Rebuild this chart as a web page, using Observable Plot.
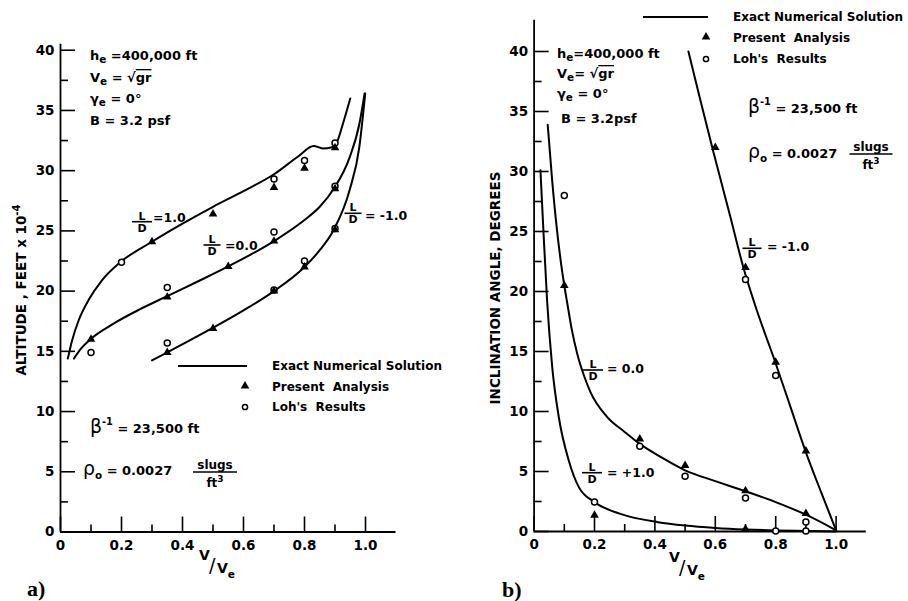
<!DOCTYPE html>
<html>
<head>
<meta charset="utf-8">
<script src="https://cdn.jsdelivr.net/npm/d3@7"></script>
<script src="https://cdn.jsdelivr.net/npm/@observablehq/plot@0.6"></script>
<style>
  body { margin: 0; background: #fff; }
  #wrap { position: relative; width: 908px; height: 601px; overflow: hidden; background: #fff; }
  #wrap svg { position: absolute; top: 0; }
  #wrap svg text { white-space: pre; }
</style>
</head>
<body>
<div id="wrap"></div>
<script>
// ---------------- DATA ----------------
// Tick values (both panels)
const xMajorTicks = [0, 0.2, 0.4, 0.6, 0.8, 1.0];
const xMinorTicks = [0.1, 0.3, 0.5, 0.7, 0.9];
const yMajorTicks = [0, 5, 10, 15, 20, 25, 30, 35, 40];
const yMinorTicks = [2.5, 7.5, 12.5, 17.5, 22.5, 27.5, 32.5, 37.5];

// Panel a) altitude (feet x 10^-4) vs V/Ve : exact numerical solution
const altExactLDplus1 = [[0.024,14.4],[0.038,15.9],[0.06,17.6],[0.093,19.3],[0.136,20.9],[0.196,22.4],[0.3,24.1],[0.4,25.6],[0.5,27.0],[0.6,28.3],[0.7,29.7],[0.78,31.2],[0.83,32.05],[0.86,31.85],[0.89,31.95],[0.91,32.6],[0.926,33.9],[0.95,36.0]];
const altExactLDzero  = [[0.044,14.4],[0.07,15.3],[0.098,16.0],[0.174,17.3],[0.261,18.5],[0.343,19.5],[0.45,20.8],[0.55,22.05],[0.7,24.15],[0.8,25.9],[0.85,27.0],[0.896,28.5],[0.948,31.1],[0.98,33.9],[0.997,36.4]];
const altExactLDminus1 = [[0.3,14.25],[0.349,14.9],[0.496,16.9],[0.6,18.4],[0.7,20.0],[0.8,22.0],[0.85,23.4],[0.896,25.1],[0.948,28.4],[0.98,32.0],[0.999,36.4]];
// Panel a) present analysis (triangles) and Loh's results (circles)
const altPresent = [[0.1,16.0],[0.3,24.1],[0.5,26.4],[0.7,28.6],[0.8,30.2],[0.9,31.9],[0.35,19.5],[0.55,22.05],[0.7,24.15],[0.9,28.5],[0.35,14.9],[0.5,16.9],[0.7,20.0],[0.8,22.0],[0.9,25.1]];
const altLoh = [[0.1,14.9],[0.2,22.4],[0.7,29.3],[0.8,30.85],[0.9,32.3],[0.35,20.3],[0.7,24.9],[0.9,28.7],[0.35,15.7],[0.7,20.1],[0.8,22.5],[0.9,25.2]];

// Panel b) inclination angle (degrees) vs V/Ve : exact numerical solution
const incExactLDplus1 = [[0.021,30.1],[0.03,25.5],[0.043,19.25],[0.06,13.7],[0.082,9.5],[0.115,5.9],[0.148,3.7],[0.2,2.45],[0.286,1.47],[0.41,0.78],[0.5,0.5],[0.6,0.3],[0.7,0.17],[0.8,0.09],[0.9,0.04],[1.0,0.0]];
const incExactLDzero  = [[0.045,33.9],[0.06,29.2],[0.075,25.3],[0.09,22.2],[0.1,20.5],[0.11,19.0],[0.125,16.8],[0.143,14.8],[0.165,13.0],[0.187,11.6],[0.24,9.6],[0.3,8.3],[0.35,7.3],[0.42,6.2],[0.5,5.1],[0.6,4.2],[0.7,3.35],[0.8,2.45],[0.9,1.4],[1.0,0.1]];
const incExactLDminus1 = [[0.511,40.0],[0.55,36.0],[0.591,31.9],[0.65,26.2],[0.693,22.0],[0.73,19.0],[0.8,14.0],[0.85,10.3],[0.9,6.6],[0.95,3.3],[1.0,0.1]];
// Panel b) present analysis (triangles) and Loh's results (circles)
const incPresent = [[0.1,20.5],[0.35,7.7],[0.5,5.5],[0.7,3.4],[0.9,1.5],[0.2,1.35],[0.6,32.0],[0.7,22.0],[0.8,14.1],[0.9,6.7],[0.7,0.2]];
const incLoh = [[0.1,28.0],[0.35,7.1],[0.5,4.6],[0.7,2.8],[0.9,0.8],[0.2,2.45],[0.7,21.0],[0.8,13.0],[0.8,0.05],[0.9,0.05]];

// ---------------- BUILD ----------------
const rows = (pairs, series) => pairs.map(([x, y]) => ({x, y, series}));
const FONT = "DejaVu Sans";

function panel(o) {
  const pxX = (o.width - o.ml - o.mr) / (o.xdom[1] - o.xdom[0]);
  const pxY = (o.height - o.mt - o.mb) / (o.ydom[1] - o.ydom[0]);
  return Plot.plot({
    width: o.width, height: o.height,
    marginLeft: o.ml, marginRight: o.mr, marginTop: o.mt, marginBottom: o.mb,
    x: {domain: o.xdom}, y: {domain: o.ydom},
    style: {fontFamily: FONT, fontSize: "13.5px", fontWeight: "bold", color: "#000", background: "transparent", overflow: "visible"},
    marks: [
      Plot.axisX(xMajorTicks, {tickSize: 0, tickPadding: 8, label: null, tickFormat: d => d === 0 ? "0" : d.toFixed(1)}),
      Plot.axisY(yMajorTicks, {tickSize: 0, tickPadding: 6, label: null}),
      Plot.ruleX([0], {stroke: "#000", strokeWidth: 1.8}),
      Plot.ruleY([0], {stroke: "#000", strokeWidth: 1.8}),
      Plot.ruleY(yMajorTicks, {y: d => d, x1: 0, x2: 15 / pxX, stroke: "#000", strokeWidth: 1.6}),
      Plot.ruleY(yMinorTicks, {y: d => d, x1: 0, x2: 8 / pxX, stroke: "#000", strokeWidth: 1.6}),
      Plot.ruleX(xMajorTicks, {x: d => d, y1: 0, y2: 15 / pxY, stroke: "#000", strokeWidth: 1.6}),
      Plot.ruleX(xMinorTicks, {x: d => d, y1: 0, y2: 7 / pxY, stroke: "#000", strokeWidth: 1.6}),
      Plot.line(o.curves, {x: "x", y: "y", z: "series", curve: "monotone-x", stroke: "#000", strokeWidth: 2}),
      Plot.dot(o.circles, {x: "x", y: "y", r: 3, fill: "white", stroke: "#000", strokeWidth: 1.5}),
      Plot.dot(o.triangles, {x: "x", y: "y", symbol: "triangle", r: 3.2, fill: "#000", stroke: "none"})
    ]
  });
}

const wrap = document.getElementById("wrap");

const plotA = panel({
  width: 450, height: 601, ml: 60, mr: 54.5, mt: 43.7, mb: 69.5,
  xdom: [0, 1.1], ydom: [0, 40.5],
  curves: [...rows(altExactLDplus1, "+1"), ...rows(altExactLDzero, "0"), ...rows(altExactLDminus1, "-1")],
  triangles: rows(altPresent, "present"),
  circles: rows(altLoh, "loh")
});
plotA.style.left = "0px";
wrap.appendChild(plotA);

const plotB = panel({
  width: 458, height: 601, ml: 83.6, mr: 42.2, mt: 19.8, mb: 70,
  xdom: [0, 1.1], ydom: [0, 42.6],
  curves: [...rows(incExactLDplus1, "+1"), ...rows(incExactLDzero, "0"), ...rows(incExactLDminus1, "-1")],
  triangles: rows(incPresent, "present"),
  circles: rows(incLoh, "loh")
});
plotB.style.left = "450px";
wrap.appendChild(plotB);

// ---------------- ANNOTATIONS ----------------
const ov = d3.select(wrap).append("svg").attr("width", 908).attr("height", 601)
  .style("left", "0px").attr("font-family", FONT).attr("font-weight", "bold").attr("fill", "#000");

function rich(x, y, parts, size = 13, anchor = "start", transform = null) {
  const t = ov.append("text").attr("x", x).attr("y", y).attr("font-size", size).attr("text-anchor", anchor);
  if (transform) t.attr("transform", transform);
  let prev = 0;
  for (const p of parts) {
    const [s, shift = 0, scale = 1, deco = null, fam = null] = p;
    const ts = t.append("tspan").text(s).attr("dy", shift - prev).attr("font-size", size * scale);
    if (deco) ts.attr("text-decoration", deco);
    if (fam) ts.attr("font-weight", "normal");
    prev = shift;
  }
  return t;
}
function frac(cx, barY, w, top, bottom, size = 11, nb = -3, db = 9) {
  ov.append("line").attr("x1", cx - w / 2).attr("x2", cx + w / 2).attr("y1", barY).attr("y2", barY)
    .attr("stroke", "#000").attr("stroke-width", 1.6);
  rich(cx, barY + nb, top, size, "middle");
  rich(cx, barY + db, bottom, size, "middle");
}

// parameter blocks
function params(x, y0, gaps, compact) {
  rich(x, y0, [["h"], ["e", 3, 0.8], [compact ? "=400,000 ft" : " =400,000 ft", 0]]);
  rich(x, y0 + gaps[0], [["V"], ["e", 3, 0.8], [compact ? "= " : " = ", 0], ["√", 0], ["gr", 0, 1, "overline"]]);
  rich(x, y0 + gaps[1], [["γ"], ["e", 3, 0.8], [" = 0°", 0]]);
  rich(x + (compact ? 4 : 0), y0 + gaps[2], [[compact ? "B = 3.2psf" : "B = 3.2 psf"]]);
}
params(90, 60, [22, 43, 65], false);
params(557, 58, [20, 40, 65], true);

// beta and rho
function constants(xb, yb, xr, yr, fcx, fbar, fw) {
  rich(xb, yb, [["β", 0, 1.45, null, 1], ["-1", -8, 0.75], [" = 23,500 ft", 0]]);
  rich(xr, yr, [["ρ", 0, 1.45, null, 1], ["o", 4, 0.8], [" = 0.0027", 0]]);
  frac(fcx, fbar, fw, [["slugs"]], [["ft"], ["3", -5, 0.75]], 12, -3, 15);
}
constants(90, 433, 83, 475, 215, 472, 44);
constants(748, 113, 748, 158, 871, 154, 43);

// legends
function legend(lx1, lx2, ly, tx, ys) {
  ov.append("line").attr("x1", lx1).attr("x2", lx2).attr("y1", ly).attr("y2", ly).attr("stroke", "#000").attr("stroke-width", 2);
  rich(tx, ys[0], [["Exact Numerical Solution"]], 12);
  ov.append("path").attr("d", d3.symbol(d3.symbolTriangle, Math.PI * 3.2 * 3.2)()).attr("transform", `translate(${lx2 - 2},${ys[1] - 5})`).attr("fill", "#000");
  rich(tx, ys[1], [["Present  Analysis"]], 12);
  ov.append("circle").attr("cx", lx2 - 2).attr("cy", ys[2] - 4).attr("r", 2.6).attr("fill", "#fff").attr("stroke", "#000").attr("stroke-width", 1.5);
  rich(tx, ys[2], [["Loh's  Results"]], 12);
}
legend(178, 247, 366, 272, [370, 391, 411]);
legend(643, 708, 17, 733, [21, 42, 63]);

// L/D labels
function ldLabel(cx, barY, w, text, tx, tb) {
  frac(cx, barY, w, [["L"]], [["D"]], 11, -2, 10);
  rich(tx, tb, [[text]], 12.5);
}
ldLabel(142, 221.7, 20, "=1.0", 153, 221.5);
ldLabel(212, 245, 17, "=0.0", 225, 250);
ldLabel(353, 213.3, 17, "= -1.0", 365, 219.5);
ldLabel(752, 248.3, 19, "= -1.0", 767, 251);
ldLabel(593, 370, 20, "= 0.0", 607, 372.5);
ldLabel(592, 472.7, 20, "= +1.0", 607, 477);

// axis titles
rich(0, 0, [["ALTITUDE , FEET x 10"], ["-4", -6, 0.75]], 13.5, "middle", "translate(26,290) rotate(-90)");
rich(0, 0, [["INCLINATION ANGLE, DEGREES"]], 13.5, "middle", "translate(500,288) rotate(-90)");

// x-axis titles V/Ve
function vLabel(x, y) {
  rich(x, y, [["V"]], 14);
  rich(x + 10, y + 12, [["/"]], 19, "start").attr("font-weight", "normal");
  rich(x + 18, y + 13, [["V"], ["e", 5, 0.75]], 14);
}
vLabel(199, 560);
vLabel(669, 562);

// panel letters
ov.append("text").attr("x", 27).attr("y", 596).attr("font-family", "Liberation Serif").attr("font-size", 22).text("a)");
ov.append("text").attr("x", 502).attr("y", 597).attr("font-family", "Liberation Serif").attr("font-size", 22).text("b)");
</script>
</body>
</html>
